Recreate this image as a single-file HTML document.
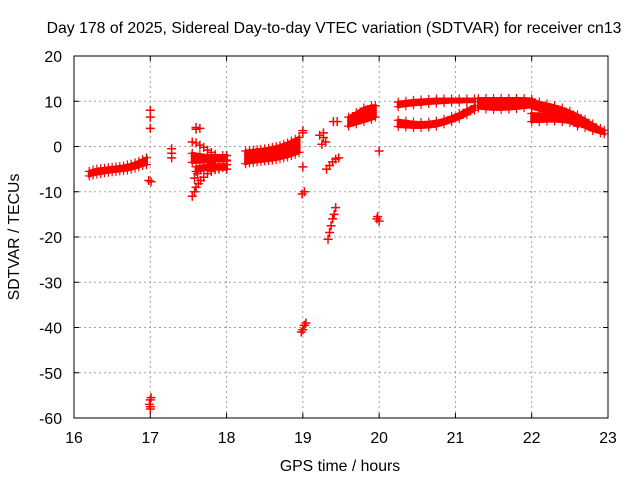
<!DOCTYPE html>
<html><head><meta charset="utf-8"><style>
body{margin:0;background:#fff}
svg{display:block;font-family:"Liberation Sans",sans-serif}
</style></head><body>
<svg id="chart" width="640" height="480">
<text x="334" y="33" font-size="15.8" text-anchor="middle" fill="#000">Day 178 of 2025, Sidereal Day-to-day VTEC variation (SDTVAR) for receiver cn13</text>
<text x="340" y="471" font-size="15.8" text-anchor="middle">GPS time / hours</text>
<text transform="translate(19,237) rotate(-90)" font-size="15.8" text-anchor="middle">SDTVAR / TECUs</text>
<g id="grid"></g><g id="marks"></g><g id="axes"></g>
</svg>
<script>
const xTicks=[16,17,18,19,20,21,22,23];
const yTicks=[20,10,0,-10,-20,-30,-40,-50,-60];
const band1X=[16.2,16.25,16.3,16.35,16.4,16.45,16.5,16.55,16.6,16.65,16.7,16.75,16.8,16.85,16.9,16.95];
const band1Lo=[-6.5,-6.3,-6.1,-6,-5.8,-5.7,-5.6,-5.5,-5.4,-5.3,-5.2,-5,-4.8,-4.5,-4.2,-4];
const band1Hi=[-5.5,-5.2,-5,-4.9,-4.8,-4.7,-4.6,-4.5,-4.4,-4.3,-4.1,-3.9,-3.6,-3.3,-2.9,-2.5];
const band2X=[18.25,18.3,18.35,18.4,18.45,18.5,18.55,18.6,18.65,18.7,18.75,18.8,18.85,18.9,18.95];
const band2Lo=[-3.8,-3.6,-3.5,-3.4,-3.3,-3.2,-3.1,-3,-2.9,-2.7,-2.5,-2.3,-2,-1.7,-1.3];
const band2Hi=[-1,-0.9,-0.8,-0.7,-0.6,-0.5,-0.4,-0.2,0,0.2,0.5,0.8,1.2,1.6,2];
const band3X=[20.25,20.35,20.45,20.55,20.65,20.75,20.85,20.95,21.05,21.15,21.25];
const band3Lo=[8.8,9,9.2,9.3,9.5,9.6,9.7,9.8,9.8,9.9,9.9];
const band3Hi=[9.8,10,10.2,10.3,10.4,10.5,10.5,10.5,10.5,10.5,10.5];
const band4X=[20.25,20.35,20.45,20.55,20.65,20.75,20.85,20.95,21.05,21.15,21.25];
const band4Lo=[4.4,4.3,4.2,4.2,4.3,4.5,5,5.5,6.2,7,8];
const band4Hi=[5.8,5.6,5.4,5.3,5.4,5.6,6,6.6,7.3,8.2,9];
const band5X=[21.3,21.4,21.5,21.6,21.7,21.8,21.9,22.0];
const band5Lo=[8.5,8.3,8.2,8.2,8.3,8.4,8.6,8.8];
const band5Hi=[10.6,10.6,10.6,10.6,10.6,10.6,10.6,10.5];
const band6X=[22.0,22.1,22.2,22.3,22.4,22.5,22.6,22.7,22.8,22.9,22.95];
const band6Lo=[8.5,8,7.5,7,6.5,6,5,4.2,3.5,3,2.8];
const band6Hi=[10.2,9.8,9.4,9,8.5,7.8,7,6,5,4,3.6];
const band7X=[22.0,22.1,22.2,22.3,22.4,22.5,22.6];
const band7Lo=[5.5,5.5,5.6,5.6,5.5,5.3,4.5];
const band7Hi=[7.3,7.2,7.0,6.8,6.6,6.3,5.8];
const band8X=[19.6,19.7,19.8,19.9,19.95];
const band8Lo=[4.5,5,5.5,6,6.5];
const band8Hi=[6.5,7.5,8.5,9,9];
const band9X=[17.55,17.65,17.75,17.85,17.95,18.0];
const band9Lo=[-3.5,-3.5,-3.3,-3.2,-3.2,-3.2];
const band9Hi=[-1.5,-1.8,-2,-2,-2,-2];
const band10X=[17.6,17.7,17.8,17.9,18.0];
const band10Lo=[-5.5,-5.2,-5,-5,-5];
const band10Hi=[-4.5,-4.2,-4,-4,-4];
const ptsX=[17,17,17,16.98,17.01,17,16.99,17.0,17.01,17.0,17.28,17.28,17.28,17.6,17.65,17.6,
17.55,17.6,17.65,17.7,17.75,17.8,17.85,
17.55,17.58,17.6,17.63,17.66,17.7,17.75,17.8,17.85,17.9,17.95,
17.58,17.62,17.66,17.7,17.75,17.8,
18,18,18,18,
19,19,19,18.99,19.02,19.0,19.02,19.04,18.98,
19.27,19.27,19.3,19.25,19.22,19.4,19.45,19.31,19.35,19.39,19.43,19.47,
19.33,19.35,19.37,19.39,19.41,19.43,
20,19.98,20,19.97];
const ptsY=[8,6.5,4,-7.5,-7.8,-56,-57,-58,-55.5,-57.5,-0.5,-1.5,-2.5,4.2,4,3.8,
1,0.8,0.3,-0.2,-0.8,-1.3,-1.8,
-11,-10,-9,-8.2,-7.5,-6.8,-6,-5.5,-5.1,-4.8,-4.6,
-7,-6,-5.2,-4.6,-4,-3.6,
-2,-3,-4,-5,
3.5,3,-4.5,-10.5,-10,-40.5,-39.5,-39,-41,
3,2,1,0.5,2.5,5.5,5.5,-5,-4.2,-3.4,-2.8,-2.5,
-20.5,-19,-17.5,-16,-15,-13.5,
-1,-15.5,-16.5,-16];

const X0=74,X1=608,Y0=418,Y1=56;
const sx=v=>X0+(v-16)/7*(X1-X0);
const sy=v=>Y0-(v+60)/80*(Y0-Y1);
const NS='http://www.w3.org/2000/svg';
const grid=document.getElementById('grid'),marks=document.getElementById('marks'),axes=document.getElementById('axes');
function mk(t,a,p){const e=document.createElementNS(NS,t);for(const k in a)e.setAttribute(k,a[k]);p.appendChild(e);return e;}
xTicks.forEach(t=>{
 if(t>16&&t<23){const g=mk('line',{x1:sx(t),x2:sx(t),y1:Y0,y2:Y1,stroke:'#a0a0a0','stroke-dasharray':'2,3'},grid);
 
 }
 const l=mk('text',{x:sx(t),y:Y0+25,'font-size':15.8,'text-anchor':'middle'},axes);l.textContent=t;
 
 
 mk('line',{x1:sx(t),x2:sx(t),y1:Y0,y2:Y0-5,stroke:'#000'},axes);
 mk('line',{x1:sx(t),x2:sx(t),y1:Y1,y2:Y1+5,stroke:'#000'},axes);
});
yTicks.forEach(t=>{
 if(t<20&&t>-60){const g=mk('line',{x1:X0,x2:X1,y1:sy(t),y2:sy(t),stroke:'#a0a0a0','stroke-dasharray':'2,3'},grid);
 
 }
 const l=mk('text',{x:X0-12,y:sy(t)+6,'font-size':15.8,'text-anchor':'end'},axes);l.textContent=t;
 
 
 mk('line',{x1:X0,x2:X0+5,y1:sy(t),y2:sy(t),stroke:'#000'},axes);
 mk('line',{x1:X1,x2:X1-5,y1:sy(t),y2:sy(t),stroke:'#000'},axes);
});
const fr=mk('rect',{x:X0,y:Y1,width:X1-X0,height:Y0-Y1,fill:'none',stroke:'#000'},axes);


function plus(x,y){return `M${sx(x)-4.5},${sy(y)}h9M${sx(x)},${sy(y)-4.5}v9`;}
const bands=[[band1X,band1Lo,band1Hi],[band2X,band2Lo,band2Hi],[band3X,band3Lo,band3Hi],[band4X,band4Lo,band4Hi],[band5X,band5Lo,band5Hi],[band6X,band6Lo,band6Hi],[band7X,band7Lo,band7Hi],[band8X,band8Lo,band8Hi],[band9X,band9Lo,band9Hi],[band10X,band10Lo,band10Hi]];
bands.forEach(([xs,lo,hi])=>{
 const pts=xs.map((x,i)=>sx(x)+','+sy(hi[i])).concat(xs.map((x,i)=>sx(x)+','+sy(lo[i])).reverse());
 const p=mk('polygon',{points:pts.join(' '),fill:'#f00',stroke:'#f00','stroke-width':3},marks);
 
 
 let d='';xs.forEach((x,i)=>{d+=plus(x,lo[i])+plus(x,hi[i]);});
 const m=mk('path',{d:d,stroke:'#f00','stroke-width':1.2,fill:'none'},marks);
 
 
});
let d='';ptsX.forEach((x,i)=>{d+=plus(x,ptsY[i]);});
const sp=mk('path',{d:d,stroke:'#f00','stroke-width':1.5,fill:'none'},marks);


</script>
</body></html>
